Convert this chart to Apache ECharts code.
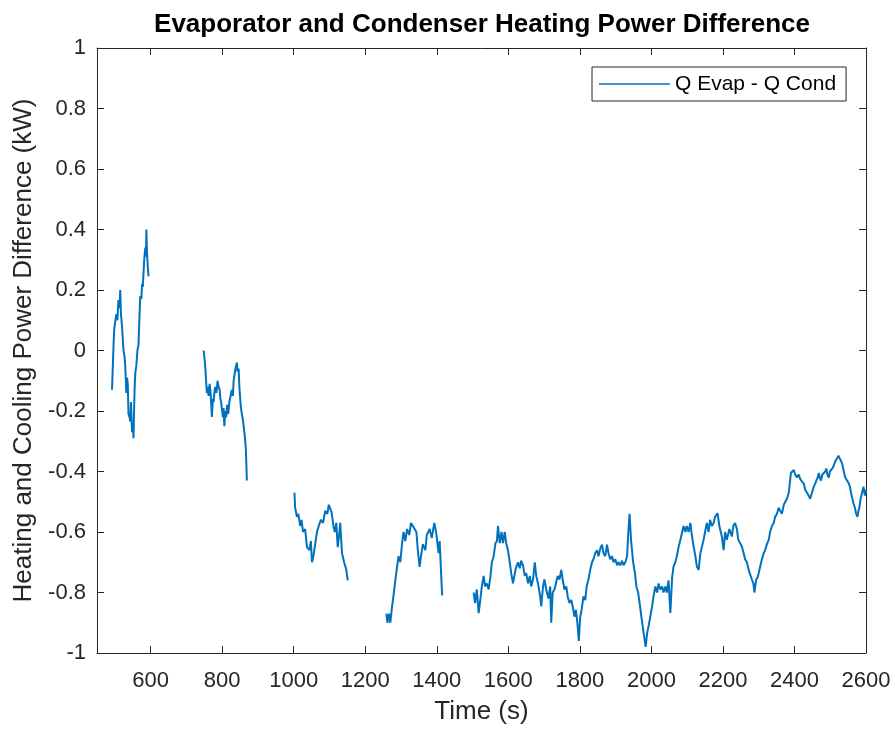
<!DOCTYPE html>
<html><head><meta charset="utf-8">
<script src="https://cdn.jsdelivr.net/npm/echarts@6/dist/echarts.min.js"></script>
<style>html,body{margin:0;padding:0;background:#fff}#c{width:895px;height:730px}</style>
</head><body><div id="c"></div>
<script>
const chartTitle = 'Evaporator and Condenser Heating Power Difference';
const xName = 'Time (s)';
const yName = 'Heating and Cooling Power Difference (kW)';
const seriesName = 'Q Evap - Q Cond';
const xTicks = [600, 800, 1000, 1200, 1400, 1600, 1800, 2000, 2200, 2400, 2600];
const yTicks = [-1, -0.8, -0.6, -0.4, -0.2, 0, 0.2, 0.4, 0.6, 0.8, 1];

const t1 = [492, 496, 498, 504, 507, 510, 513, 515, 517, 520,
            524, 527, 529, 532, 534, 536, 538, 541, 543, 545,
            548, 550, 552, 555, 557, 560, 563, 566, 569, 571,
            574, 576, 578, 580, 582, 585, 587, 588, 590, 592, 594];
const v1 = [-0.13, 0.01, 0.07, 0.12, 0.10, 0.167, 0.14, 0.20, 0.12, 0.08,
            0.0, -0.02, -0.05, -0.14, -0.09, -0.11, -0.21, -0.22, -0.235, -0.17,
            -0.27, -0.24, -0.29, -0.13, -0.075, -0.05, 0.0, 0.02, 0.12, 0.18,
            0.17, 0.22, 0.21, 0.255, 0.30, 0.34, 0.31, 0.40, 0.32, 0.277, 0.245];

const t2 = [748, 751, 753, 757, 759, 762, 765, 767, 770, 771,
            774, 776, 779, 781, 784, 787, 790, 793, 795, 797,
            800, 802, 804, 806, 809, 811, 814, 817, 820, 824,
            827, 830, 832, 834, 837, 839, 841, 843, 846, 848,
            852, 855, 858, 862, 866, 869];
const v2 = [0.0, -0.03, -0.06, -0.14, -0.12, -0.15, -0.11, -0.13, -0.19, -0.22,
            -0.16, -0.17, -0.13, -0.12, -0.14, -0.10, -0.12, -0.13, -0.16, -0.17,
            -0.20, -0.22, -0.19, -0.25, -0.20, -0.22, -0.18, -0.21, -0.17, -0.17,
            -0.13, -0.15, -0.10, -0.10, -0.06, -0.05, -0.04, -0.07, -0.06, -0.12,
            -0.185, -0.21, -0.23, -0.27, -0.32, -0.43];

const t3 = [1002, 1004, 1009, 1013, 1018, 1022, 1026, 1032, 1037, 1044,
            1048, 1051, 1055, 1060, 1065, 1070, 1076, 1082, 1088, 1094,
            1098, 1102, 1106, 1111, 1115, 1119, 1123, 1127, 1130, 1135,
            1141, 1147, 1151];
const v3 = [-0.47, -0.52, -0.55, -0.54, -0.58, -0.56, -0.60, -0.59, -0.65, -0.66,
            -0.63, -0.70, -0.68, -0.64, -0.60, -0.58, -0.56, -0.57, -0.53, -0.54,
            -0.51, -0.515, -0.535, -0.58, -0.60, -0.57, -0.65, -0.61, -0.57, -0.67,
            -0.70, -0.725, -0.76];

const t4 = [1259, 1262, 1266, 1270, 1275, 1279, 1284, 1289, 1293, 1298,
            1303, 1307, 1312, 1317, 1323, 1328, 1333, 1337, 1343, 1347,
            1352, 1356, 1361, 1368, 1372, 1380, 1386, 1393, 1398, 1405,
            1408, 1412, 1415];
const v4 = [-0.87, -0.90, -0.87, -0.90, -0.846, -0.81, -0.76, -0.715, -0.68, -0.70,
            -0.637, -0.60, -0.63, -0.59, -0.61, -0.57, -0.58, -0.575, -0.60, -0.66,
            -0.715, -0.68, -0.64, -0.66, -0.61, -0.59, -0.62, -0.57, -0.60, -0.67,
            -0.63, -0.735, -0.81];

const t5 = [1503, 1507, 1512, 1517, 1522, 1526, 1531, 1535, 1540, 1545,
            1550, 1554, 1559, 1564, 1568, 1571, 1576, 1581, 1585, 1590,
            1594, 1599, 1604, 1608, 1613, 1617, 1621, 1627, 1632, 1636,
            1641, 1646, 1650, 1655, 1660, 1664, 1669, 1674, 1678, 1683,
            1689, 1692, 1697, 1701, 1706, 1712, 1717, 1720, 1724, 1729,
            1733, 1738, 1743, 1748, 1752, 1757, 1762, 1766, 1771, 1776,
            1780, 1785, 1789, 1794, 1797, 1801, 1805, 1810, 1815, 1819,
            1824, 1829, 1834, 1838, 1843, 1848, 1852, 1857, 1862, 1866,
            1871, 1876, 1880, 1885, 1890, 1894, 1899, 1904, 1908, 1913,
            1918, 1922, 1927, 1932, 1936, 1939, 1943, 1949, 1954, 1958,
            1963, 1967, 1972, 1977, 1981, 1984, 1988, 1992, 1997, 2002,
            2006, 2011, 2016, 2020, 2025, 2030, 2034, 2039, 2043, 2048,
            2053, 2058, 2062, 2067, 2071, 2076, 2081, 2086, 2090, 2095,
            2099, 2104, 2109, 2113, 2118, 2123, 2127, 2132, 2137, 2141,
            2146, 2150, 2155, 2160, 2164, 2169, 2174, 2178, 2185, 2190,
            2197, 2202, 2206, 2211, 2218, 2225, 2229, 2234, 2239, 2243,
            2248, 2253, 2258, 2262, 2267, 2272, 2276, 2281, 2285, 2288,
            2293, 2297, 2300, 2305, 2309, 2314, 2318, 2323, 2328, 2332,
            2337, 2342, 2346, 2351, 2356, 2360, 2365, 2370, 2374, 2379,
            2384, 2387, 2390, 2394, 2398, 2402, 2407, 2412, 2416, 2421,
            2426, 2430, 2435, 2440, 2444, 2449, 2454, 2458, 2461, 2465,
            2468, 2471, 2474, 2478, 2482, 2486, 2489, 2492, 2496, 2499,
            2502, 2506, 2510, 2513, 2517, 2520, 2523, 2528, 2533, 2538,
            2542, 2547, 2552, 2555, 2558, 2562, 2565, 2569, 2572, 2576,
            2579, 2582, 2585, 2589, 2593, 2597, 2600];
const v5 = [-0.80, -0.835, -0.79, -0.868, -0.82, -0.78, -0.745, -0.78, -0.77, -0.79,
            -0.747, -0.70, -0.68, -0.637, -0.63, -0.58, -0.637, -0.60, -0.637, -0.60,
            -0.637, -0.66, -0.70, -0.736, -0.77, -0.745, -0.72, -0.70, -0.72, -0.695,
            -0.71, -0.745, -0.736, -0.77, -0.745, -0.78, -0.757, -0.70, -0.745, -0.77,
            -0.813, -0.846, -0.78, -0.757, -0.79, -0.82, -0.78, -0.90, -0.80, -0.79,
            -0.77, -0.745, -0.757, -0.725, -0.757, -0.79, -0.78, -0.813, -0.835, -0.825,
            -0.846, -0.88, -0.857, -0.912, -0.96, -0.88, -0.857, -0.813, -0.825, -0.78,
            -0.757, -0.725, -0.70, -0.69, -0.67, -0.66, -0.68, -0.655, -0.642, -0.67,
            -0.68, -0.642, -0.67, -0.69, -0.68, -0.70, -0.69, -0.71, -0.70, -0.71,
            -0.695, -0.71, -0.70, -0.68, -0.59, -0.54, -0.625, -0.70, -0.736, -0.78,
            -0.80, -0.835, -0.88, -0.923, -0.956, -0.98, -0.935, -0.912, -0.88, -0.846,
            -0.813, -0.78, -0.80, -0.77, -0.79, -0.78, -0.80, -0.78, -0.80, -0.76,
            -0.868, -0.75, -0.714, -0.70, -0.68, -0.65, -0.626, -0.60, -0.58, -0.60,
            -0.58, -0.60, -0.57, -0.61, -0.648, -0.68, -0.714, -0.725, -0.67, -0.65,
            -0.626, -0.60, -0.57, -0.60, -0.56, -0.58, -0.57, -0.55, -0.538, -0.58,
            -0.615, -0.66, -0.60, -0.626, -0.59, -0.615, -0.58, -0.57, -0.59, -0.626,
            -0.63, -0.648, -0.67, -0.69, -0.70, -0.725, -0.74, -0.757, -0.77, -0.80,
            -0.757, -0.75, -0.736, -0.71, -0.69, -0.67, -0.66, -0.64, -0.626, -0.60,
            -0.58, -0.57, -0.55, -0.54, -0.52, -0.53, -0.54, -0.51, -0.505, -0.49,
            -0.47, -0.44, -0.405, -0.41, -0.395, -0.41, -0.42, -0.41, -0.425, -0.43,
            -0.44, -0.46, -0.47, -0.48, -0.49, -0.47, -0.45, -0.44, -0.43, -0.42,
            -0.405, -0.42, -0.43, -0.41, -0.405, -0.40, -0.39, -0.41, -0.42, -0.40,
            -0.395, -0.39, -0.38, -0.37, -0.36, -0.355, -0.348, -0.36, -0.373, -0.40,
            -0.42, -0.43, -0.44, -0.45, -0.47, -0.49, -0.505, -0.52, -0.538, -0.55,
            -0.53, -0.516, -0.49, -0.47, -0.45, -0.48, -0.46];

const segments = [[t1, v1], [t2, v2], [t3, v3], [t4, v4], [t5, v5]];

const FONT = '"Liberation Sans", Arial, Helvetica, sans-serif';
const AX = '#262626';
const LINE = '#0072BD';

const chart = echarts.init(document.getElementById('c'), null, {renderer: 'canvas'});

function xAxisDef(pos, labels) {
  return {
    type: 'value', min: 450, max: 2600, position: pos,
    name: labels ? xName : '', nameLocation: 'middle', nameGap: 46,
    nameTextStyle: {fontSize: 26, color: AX, fontFamily: FONT},
    axisLine: {show: true, onZero: false, lineStyle: {color: AX, width: 1}},
    axisTick: {show: true, inside: true, length: 7, customValues: xTicks, lineStyle: {color: AX, width: 1}},
    axisLabel: {show: labels, customValues: xTicks, fontSize: 22, color: AX, fontFamily: FONT, margin: 17,
                formatter: v => String(Math.round(v))},
    splitLine: {show: false}
  };
}
function yAxisDef(pos, labels) {
  return {
    type: 'value', min: -1, max: 1, position: pos,
    name: labels ? yName : '', nameLocation: 'middle', nameGap: 60,
    nameTextStyle: {fontSize: 26, color: AX, fontFamily: FONT},
    axisLine: {show: true, onZero: false, lineStyle: {color: AX, width: 1}},
    axisTick: {show: true, inside: true, length: 7, customValues: yTicks, lineStyle: {color: AX, width: 1}},
    axisLabel: {show: labels, customValues: yTicks, fontSize: 22, color: AX, fontFamily: FONT, margin: 11,
                formatter: v => String(Math.round(v * 10) / 10)},
    splitLine: {show: false}
  };
}

chart.setOption({
  animation: false,
  backgroundColor: '#fff',
  grid: {left: 97, right: 29, top: 48, bottom: 77, containLabel: false},
  graphic: [{
    type: 'text', x: 482, y: 25,
    style: {text: chartTitle, font: 'bold 26px ' + FONT, fill: '#000', align: 'center', verticalAlign: 'middle'}
  }],
  legend: {
    data: [seriesName], left: 592, top: 67,
    orient: 'horizontal', icon: 'rect',
    backgroundColor: '#fff', borderColor: AX, borderWidth: 1,
    padding: [6, 10, 6, 7],
    itemWidth: 71, itemHeight: 1.5,
    textStyle: {fontSize: 21, color: '#000', fontFamily: FONT, lineHeight: 22}
  },
  xAxis: [xAxisDef('bottom', true), xAxisDef('top', false)],
  yAxis: [yAxisDef('left', true), yAxisDef('right', false)],
  series: segments.map(([t, v]) => ({
    type: 'line', name: seriesName, xAxisIndex: 0, yAxisIndex: 0,
    data: t.map((x, i) => [x, v[i]]),
    symbol: 'none', showSymbol: false,
    lineStyle: {color: LINE, width: 2}, itemStyle: {color: LINE},
    emphasis: {disabled: true}
  }))
});
</script></body></html>
